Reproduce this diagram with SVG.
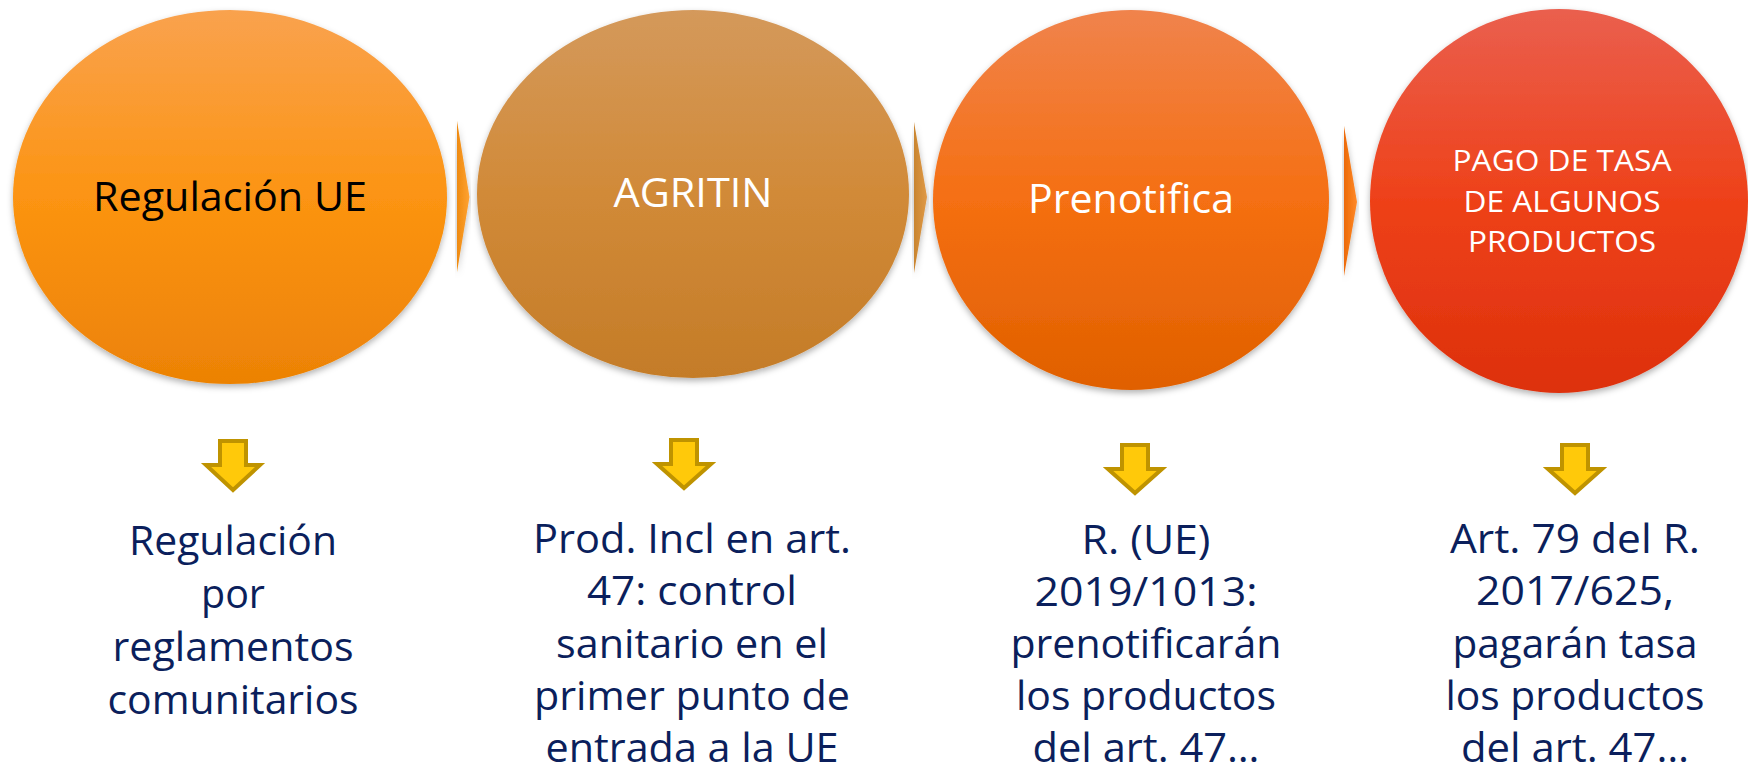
<svg xmlns="http://www.w3.org/2000/svg" width="1748" height="775" viewBox="0 0 1748 775">
  <defs>
    <linearGradient id="g1" x1="0" y1="0" x2="0" y2="1">
      <stop offset="0" stop-color="#F9A24E"/>
      <stop offset="0.5" stop-color="#FC9412"/>
      <stop offset="1" stop-color="#EC8205"/>
    </linearGradient>
    <linearGradient id="g2" x1="0" y1="0" x2="0" y2="1">
      <stop offset="0" stop-color="#D4995B"/>
      <stop offset="0.5" stop-color="#D18A38"/>
      <stop offset="1" stop-color="#C47C28"/>
    </linearGradient>
    <linearGradient id="g3" x1="0" y1="0" x2="0" y2="1">
      <stop offset="0" stop-color="#F0834C"/>
      <stop offset="0.5" stop-color="#F56F12"/>
      <stop offset="1" stop-color="#E06000"/>
    </linearGradient>
    <linearGradient id="g4" x1="0" y1="0" x2="0" y2="1">
      <stop offset="0" stop-color="#EA5F4E"/>
      <stop offset="0.5" stop-color="#EE4119"/>
      <stop offset="1" stop-color="#DD300C"/>
    </linearGradient>
    <linearGradient id="c1" x1="0" y1="0" x2="1" y2="0">
      <stop offset="0" stop-color="#EE8A10"/>
      <stop offset="1" stop-color="#FFA333"/>
    </linearGradient>
    <linearGradient id="c2" x1="0" y1="0" x2="1" y2="0">
      <stop offset="0" stop-color="#C98530"/>
      <stop offset="1" stop-color="#E09A48"/>
    </linearGradient>
    <linearGradient id="c3" x1="0" y1="0" x2="1" y2="0">
      <stop offset="0" stop-color="#EC6A08"/>
      <stop offset="1" stop-color="#FF8A2A"/>
    </linearGradient>
    <filter id="sh" x="-10%" y="-10%" width="120%" height="125%">
      <feDropShadow dx="0" dy="3" stdDeviation="3" flood-color="#000" flood-opacity="0.3"/>
    </filter>
  </defs>
  <style>
    .top { font-family: "Open Sans", "Noto Sans", sans-serif; font-size: 41px; text-anchor: middle; }
    .small { font-family: "Open Sans", "Noto Sans", sans-serif; font-size: 30px; text-anchor: middle; fill: #FFFFFF; }
    .desc { font-family: "Open Sans", "Noto Sans", sans-serif; font-size: 40px; text-anchor: middle; fill: #0B1F5C; }
    .down { fill: #FFC90A; stroke: #BF9300; stroke-width: 4; stroke-linejoin: miter; }
  </style>

  <g id="connectors">
    <polygon points="457,121 469.5,197 457,272" fill="url(#c1)" filter="url(#sh)"/>
    <polygon points="914,122 927,197 914,273" fill="url(#c2)" filter="url(#sh)"/>
    <polygon points="1344,126 1357,202 1344,276" fill="url(#c3)" filter="url(#sh)"/>
    <path class="down" d="M220,441 H246 V465 H260 L233,490 L206,465 H220 Z"/>
    <path class="down" d="M671,440 H697 V464 H711 L684,488 L657,464 H671 Z"/>
    <path class="down" d="M1122,445 H1148 V469 H1162 L1135,493 L1108,469 H1122 Z"/>
    <path class="down" d="M1562,445 H1588 V469 H1602 L1575,493 L1548,469 H1562 Z"/>
  </g>

  <g id="node1">
    <ellipse cx="230" cy="197" rx="217" ry="187" fill="url(#g1)" filter="url(#sh)"/>
    <text class="top" x="230" y="211" fill="#000000" textLength="274" lengthAdjust="spacingAndGlyphs">Regulación UE</text>
  </g>
  <g id="node2">
    <ellipse cx="693" cy="194" rx="216" ry="184" fill="url(#g2)" filter="url(#sh)"/>
    <text class="top" x="693" y="207" fill="#FFFFFF" textLength="159" lengthAdjust="spacingAndGlyphs">AGRITIN</text>
  </g>
  <g id="node3">
    <ellipse cx="1131" cy="200" rx="198" ry="190" fill="url(#g3)" filter="url(#sh)"/>
    <text class="top" x="1131" y="213" fill="#FFFFFF" textLength="206" lengthAdjust="spacingAndGlyphs">Prenotifica</text>
  </g>
  <g id="node4">
    <ellipse cx="1559" cy="201" rx="189" ry="192" fill="url(#g4)" filter="url(#sh)"/>
    <text class="small" x="1562" y="171" textLength="219" lengthAdjust="spacingAndGlyphs">PAGO DE TASA</text>
    <text class="small" x="1562" y="212" textLength="197" lengthAdjust="spacingAndGlyphs">DE ALGUNOS</text>
    <text class="small" x="1562" y="252" textLength="188" lengthAdjust="spacingAndGlyphs">PRODUCTOS</text>
  </g>

  <g id="desc1">
    <text class="desc" x="233" y="555" textLength="208" lengthAdjust="spacingAndGlyphs">Regulación</text>
    <text class="desc" x="233" y="608" textLength="64" lengthAdjust="spacingAndGlyphs">por</text>
    <text class="desc" x="233" y="661" textLength="241" lengthAdjust="spacingAndGlyphs">reglamentos</text>
    <text class="desc" x="233" y="714" textLength="251" lengthAdjust="spacingAndGlyphs">comunitarios</text>
  </g>
  <g id="desc2">
    <text class="desc" x="692" y="553" textLength="318" lengthAdjust="spacingAndGlyphs">Prod. Incl en art.</text>
    <text class="desc" x="692" y="605" textLength="210" lengthAdjust="spacingAndGlyphs">47: control</text>
    <text class="desc" x="692" y="658" textLength="272" lengthAdjust="spacingAndGlyphs">sanitario en el</text>
    <text class="desc" x="692" y="710" textLength="316" lengthAdjust="spacingAndGlyphs">primer punto de</text>
    <text class="desc" x="692" y="762" textLength="293" lengthAdjust="spacingAndGlyphs">entrada a la UE</text>
  </g>
  <g id="desc3">
    <text class="desc" x="1146" y="554" textLength="129" lengthAdjust="spacingAndGlyphs">R. (UE)</text>
    <text class="desc" x="1146" y="606" textLength="223" lengthAdjust="spacingAndGlyphs">2019/1013:</text>
    <text class="desc" x="1146" y="658" textLength="271" lengthAdjust="spacingAndGlyphs">prenotificarán</text>
    <text class="desc" x="1146" y="710" textLength="260" lengthAdjust="spacingAndGlyphs">los productos</text>
    <text class="desc" x="1146" y="762" textLength="227" lengthAdjust="spacingAndGlyphs">del art. 47…</text>
  </g>
  <g id="desc4">
    <text class="desc" x="1575" y="553" textLength="250" lengthAdjust="spacingAndGlyphs">Art. 79 del R.</text>
    <text class="desc" x="1575" y="605" textLength="198" lengthAdjust="spacingAndGlyphs">2017/625,</text>
    <text class="desc" x="1575" y="658" textLength="245" lengthAdjust="spacingAndGlyphs">pagarán tasa</text>
    <text class="desc" x="1575" y="710" textLength="259" lengthAdjust="spacingAndGlyphs">los productos</text>
    <text class="desc" x="1575" y="762" textLength="228" lengthAdjust="spacingAndGlyphs">del art. 47…</text>
  </g>
</svg>
